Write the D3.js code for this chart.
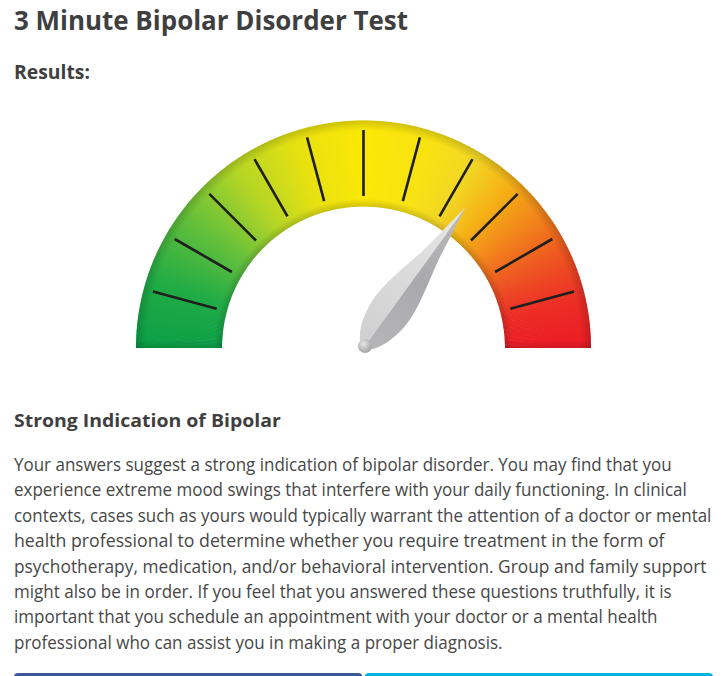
<!DOCTYPE html>
<html>
<head>
<meta charset="utf-8">
<script src="https://cdn.jsdelivr.net/npm/d3@7/dist/d3.min.js"></script>
<style>
  html, body { margin: 0; padding: 0; background: #ffffff; overflow: hidden; }
  svg { display: block; }
</style>
</head>
<body>
<script>
// ---------------- DATA ----------------
const titleText = "3 Minute Bipolar Disorder Test";
const subtitleText = "Results:";
const resultHeading = "Strong Indication of Bipolar";
const bodyLines = [
  "Your answers suggest a strong indication of bipolar disorder. You may find that you",
  "experience extreme mood swings that interfere with your daily functioning. In clinical",
  "contexts, cases such as yours would typically warrant the attention of a doctor or mental",
  "health professional to determine whether you require treatment in the form of",
  "psychotherapy, medication, and/or behavioral intervention. Group and family support",
  "might also be in order. If you feel that you answered these questions truthfully, it is",
  "important that you schedule an appointment with your doctor or a mental health",
  "professional who can assist you in making a proper diagnosis."
];
const scoreDomain = [0, 100];
const score = 70;                       // needle reading
const tickDomain = [0, 12];
const tickValues = [1, 2, 3, 4, 5, 6, 7, 8, 9, 10, 11];
const colorStops = [0, 0.1, 0.2, 0.3, 0.4, 0.5, 0.6, 0.67, 0.73, 0.79, 0.86, 0.93, 1];
const stopColors = ["#0c9f48", "#22ac45", "#62bf3b", "#b3d526", "#e8e110", "#fbe806",
                    "#f8e313", "#f2d624", "#f5b216", "#f2881b", "#ee5622", "#ec2e26", "#eb1c25"];
const buttonColors = ["#3b5998", "#00b5e2"];

// ---------------- LAYOUT ----------------
const W = 726, H = 676;
const cx = 363.5, cy = 348;
const rOuter = 227.5, rInner = 141.5;
const tickR0 = 152, tickR1 = 218;
const pivot = [365, 346];

const svg = d3.select("body").append("svg").attr("width", W).attr("height", H);
const defs = svg.append("defs");

// ---------------- TEXT ----------------
function fitText(txt, x, y, size, weight, width, color) {
  const t = svg.append("text")
    .attr("x", 0).attr("y", 0)
    .attr("font-family", "'Open Sans', 'Noto Sans', sans-serif")
    .attr("font-size", size).attr("font-weight", weight)
    .attr("fill", color)
    .text(txt);
  const natural = t.node().getComputedTextLength() || width;
  const s = width / natural;
  t.attr("transform", `translate(${x},${y}) scale(${s},1)`);
}
fitText(titleText, 14, 30, 26.5, 700, 394, "#3f3f3f");
fitText(subtitleText, 14, 79, 19.5, 700, 76, "#3f3f3f");
fitText(resultHeading, 14, 427, 18.5, 700, 267, "#3f3f3f");
const bodyWidths = [658, 673, 698, 651, 693, 658, 644, 489];
const lineY = d3.scaleLinear().domain([0, 1]).range([471, 496.4]);
bodyLines.forEach((l, i) => fitText(l, 14, lineY(i), 17.5, 400, bodyWidths[i], "#474747"));

// ---------------- GAUGE ----------------
const angle = d3.scaleLinear().domain(scoreDomain).range([-Math.PI / 2, Math.PI / 2]);
const tickAngle = d3.scaleLinear().domain(tickDomain).range([-Math.PI / 2, Math.PI / 2]);
const colorScale = d3.scaleLinear().domain(colorStops).range(stopColors).interpolate(d3.interpolateRgb);

const g = svg.append("g").attr("transform", `translate(${cx},${cy})`);
const arc = d3.arc().innerRadius(rInner).outerRadius(rOuter);
const nSlices = 360;
const slices = d3.range(nSlices).map(i => i / nSlices);
g.selectAll("path.slice").data(slices).join("path")
  .attr("class", "slice")
  .attr("d", t => arc({
    startAngle: -Math.PI / 2 + t * Math.PI,
    endAngle: Math.min(Math.PI / 2, -Math.PI / 2 + (t + 1 / nSlices) * Math.PI + 0.004)
  }))
  .attr("fill", t => colorScale(t + 0.5 / nSlices));

// edge shading (radial)
const rg = defs.append("radialGradient").attr("id", "edgeShade")
  .attr("gradientUnits", "userSpaceOnUse").attr("cx", 0).attr("cy", 0).attr("r", rOuter);
[[rInner / rOuter, 0.16], [rInner / rOuter + 0.035, 0], [0.955, 0], [1, 0.16]].forEach(([o, a]) =>
  rg.append("stop").attr("offset", o).attr("stop-color", "#000").attr("stop-opacity", a));
g.append("path")
  .attr("d", arc({ startAngle: -Math.PI / 2, endAngle: Math.PI / 2 }))
  .attr("fill", "url(#edgeShade)");

// bottom edge shading
const bg = defs.append("linearGradient").attr("id", "bottomShade")
  .attr("x1", 0).attr("y1", 0).attr("x2", 0).attr("y2", 1);
bg.append("stop").attr("offset", 0).attr("stop-color", "#000").attr("stop-opacity", 0);
bg.append("stop").attr("offset", 1).attr("stop-color", "#000").attr("stop-opacity", 0.12);
[[-rOuter, -rInner], [rInner, rOuter]].forEach(([x0, x1]) =>
  g.append("rect").attr("x", x0).attr("y", -8).attr("width", x1 - x0).attr("height", 8)
    .attr("fill", "url(#bottomShade)"));

// ticks
g.selectAll("line.tick").data(tickValues).join("line")
  .attr("class", "tick")
  .attr("x1", d => tickR0 * Math.sin(tickAngle(d)))
  .attr("y1", d => -tickR0 * Math.cos(tickAngle(d)))
  .attr("x2", d => tickR1 * Math.sin(tickAngle(d)))
  .attr("y2", d => -tickR1 * Math.cos(tickAngle(d)))
  .attr("stroke", "#1f1f1f").attr("stroke-width", 2.6);

// ---------------- NEEDLE ----------------
const profile = [[-1, 0], [1.5, 7], [17, 16], [38, 20.5], [58, 20], [84, 15.2], [111, 9.3], [140, 4.8], [172, 0]];
const outline = d3.line().curve(d3.curveCatmullRom);
const ng = svg.append("g")
  .attr("transform", `translate(${pivot[0]},${pivot[1]}) rotate(${angle(score) * 180 / Math.PI - 90})`);

const lightG = defs.append("linearGradient").attr("id", "needleLight")
  .attr("gradientUnits", "userSpaceOnUse").attr("x1", 0).attr("y1", 0).attr("x2", 172).attr("y2", 0);
lightG.append("stop").attr("offset", 0).attr("stop-color", "#cfcfcf");
lightG.append("stop").attr("offset", 0.4).attr("stop-color", "#d9d9d9");
lightG.append("stop").attr("offset", 1).attr("stop-color", "#e6e6e6");
const darkG = defs.append("linearGradient").attr("id", "needleDark")
  .attr("gradientUnits", "userSpaceOnUse").attr("x1", 0).attr("y1", 0).attr("x2", 172).attr("y2", 0);
darkG.append("stop").attr("offset", 0).attr("stop-color", "#b6b6b9");
darkG.append("stop").attr("offset", 0.5).attr("stop-color", "#a9a9ad");
darkG.append("stop").attr("offset", 1).attr("stop-color", "#bdbdbf");

ng.append("path").attr("d", outline(profile.map(([x, y]) => [x, -y])) + "Z").attr("fill", "url(#needleLight)");
ng.append("path").attr("d", outline(profile) + "Z").attr("fill", "url(#needleDark)");

const ballG = defs.append("radialGradient").attr("id", "ball")
  .attr("cx", 0.4).attr("cy", 0.35).attr("r", 0.65);
ballG.append("stop").attr("offset", 0).attr("stop-color", "#e4e4e4");
ballG.append("stop").attr("offset", 1).attr("stop-color", "#a3a3a3");
svg.append("circle").attr("cx", pivot[0]).attr("cy", pivot[1]).attr("r", 7).attr("fill", "url(#ball)");

// ---------------- BUTTON BARS ----------------
const bx = d3.scaleBand().domain([0, 1]).range([14, 713]).paddingInner(0.007);
svg.selectAll("rect.btn").data(buttonColors).join("rect")
  .attr("class", "btn")
  .attr("x", (d, i) => bx(i)).attr("y", 673)
  .attr("width", bx.bandwidth()).attr("height", 12)
  .attr("rx", 4).attr("fill", d => d);
</script>
</body>
</html>
